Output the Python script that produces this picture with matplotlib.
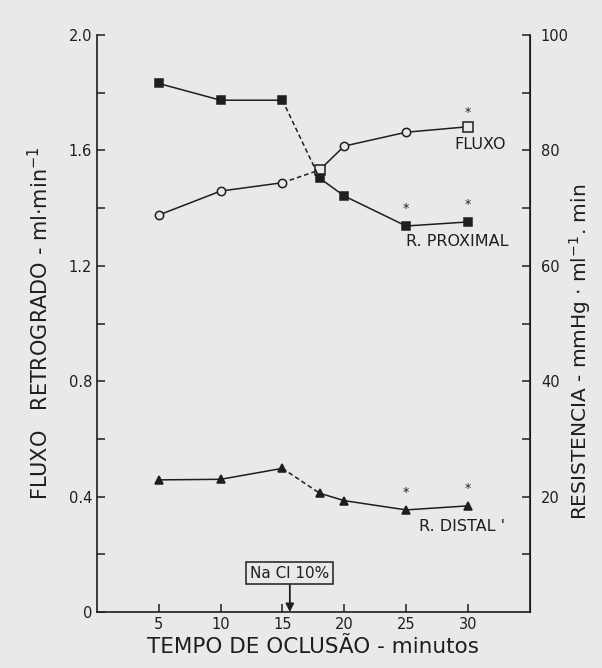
import matplotlib
matplotlib.use('Agg')
import matplotlib.pyplot as plt

# dados
tempo = [5, 10, 15, 18, 20, 25, 30]
fluxo = [1.376, 1.459, 1.488, 1.532, 1.615, 1.663, 1.682]          # ml/min (eixo esquerdo)
r_proximal = [91.6, 88.7, 88.7, 75.2, 72.1, 66.9, 67.6]             # eixo direito
r_distal = [22.9, 23.0, 24.9, 20.6, 19.3, 17.7, 18.4]               # eixo direito
asterisco_fluxo = [30]
asterisco_proximal = [25, 30]
asterisco_distal = [25, 30]

FUNDO = '#e9e9e7'
TINTA = '#1e1e1e'
plt.rcParams['font.family'] = ['DejaVu Sans']

fig = plt.figure(figsize=(6.02, 6.68), dpi=100, facecolor=FUNDO)
ax = fig.add_axes([0.161, 0.0838, 0.719, 0.8638], facecolor=FUNDO)
ax2 = ax.twinx()

ax.set_xlim(0, 35)
ax.set_ylim(0, 2.0)
ax2.set_ylim(0, 100)

def desenha(eixo, y, marcadores, preench, ms):
    # trecho continuo antes e depois da infusao, tracejado entre 15 e 18
    eixo.plot(tempo[:3], y[:3], color=TINTA, lw=1.1, zorder=2)
    eixo.plot(tempo[2:4], y[2:4], color=TINTA, lw=1.1, ls=(0, (3, 2)), zorder=2)
    eixo.plot(tempo[3:], y[3:], color=TINTA, lw=1.1, zorder=2)
    for t, v, m in zip(tempo, y, marcadores):
        eixo.plot(t, v, ls='none', marker=m, ms=ms + (1 if m == 's' and preench == FUNDO else 0),
                  mfc=preench, mec=TINTA, mew=1.1, zorder=3)

desenha(ax, fluxo, ['o', 'o', 'o', 's', 'o', 'o', 's'], FUNDO, 6)
desenha(ax2, r_proximal, ['s'] * 7, TINTA, 5.5)
desenha(ax2, r_distal, ['^'] * 7, TINTA, 5.5)

# asteriscos de significancia
for t in asterisco_fluxo:
    ax.text(t, fluxo[tempo.index(t)] + 0.05, '*', ha='center', va='center', fontsize=9, color=TINTA)
for t in asterisco_proximal:
    ax2.text(t, r_proximal[tempo.index(t)] + 3.0, '*', ha='center', va='center', fontsize=9, color=TINTA)
for t in asterisco_distal:
    ax2.text(t, r_distal[tempo.index(t)] + 3.0, '*', ha='center', va='center', fontsize=9, color=TINTA)

# rotulos das curvas
ax.text(33.1, 1.622, 'FLUXO', fontsize=11.5, color=TINTA, ha='right', va='center')
ax.text(33.25, 1.283, 'R. PROXIMAL', fontsize=11.5, color=TINTA, ha='right', va='center')
ax.text(33.0, 0.295, "R. DISTAL '", fontsize=11.5, color=TINTA, ha='right', va='center')

# marcacao da infusao
ax.annotate('Na Cl 10%', xy=(15.6, 0.0), xytext=(15.6, 0.135),
            ha='center', va='center', fontsize=11, color=TINTA,
            bbox=dict(boxstyle='square,pad=0.25', fc=FUNDO, ec=TINTA, lw=1.1),
            arrowprops=dict(arrowstyle='-|>', color=TINTA, lw=1.3, mutation_scale=12,
                            shrinkA=0, shrinkB=0))

# eixos
ax.spines['top'].set_visible(False)
ax2.spines['top'].set_visible(False)
for s in ['left', 'bottom']:
    ax.spines[s].set_color(TINTA)
    ax.spines[s].set_linewidth(1.2)
ax2.spines['right'].set_color(TINTA)
ax2.spines['right'].set_linewidth(1.2)
ax2.spines['left'].set_visible(False)
ax2.spines['bottom'].set_visible(False)

ax.set_xticks([5, 10, 15, 20, 25, 30])
ax.set_yticks([0, 0.4, 0.8, 1.2, 1.6, 2.0])
ax.set_yticklabels(['0', '0.4', '0.8', '1.2', '1.6', '2.0'])
ax.set_yticks([0.2, 0.6, 1.0, 1.4, 1.8], minor=True)
ax2.set_yticks([20, 40, 60, 80, 100])
ax2.set_yticks([10, 30, 50, 70, 90], minor=True)

ax.tick_params(axis='both', which='both', direction='in', color=TINTA, labelcolor=TINTA,
               labelsize=10.5, width=1.1, length=6)
ax2.tick_params(axis='y', which='both', direction='in', color=TINTA, labelcolor=TINTA,
                labelsize=10.5, width=1.1, length=6, pad=8)

ax.set_xlabel('TEMPO DE OCLUSÃO - minutos', fontsize=15.5, color=TINTA, labelpad=4)
ax.set_ylabel(r'FLUXO   RETROGRADO - ml$\cdot$min$^{-1}$', fontsize=15, color=TINTA, labelpad=12)
ax2.set_ylabel(r'RESISTENCIA - mmHg $\cdot$ ml$^{-1}$. min', fontsize=14.5, color=TINTA,
               rotation=90, va='center')
ax2.yaxis.set_label_coords(1.117, 0.45)

fig.savefig('out.png', dpi=100, facecolor=FUNDO)
